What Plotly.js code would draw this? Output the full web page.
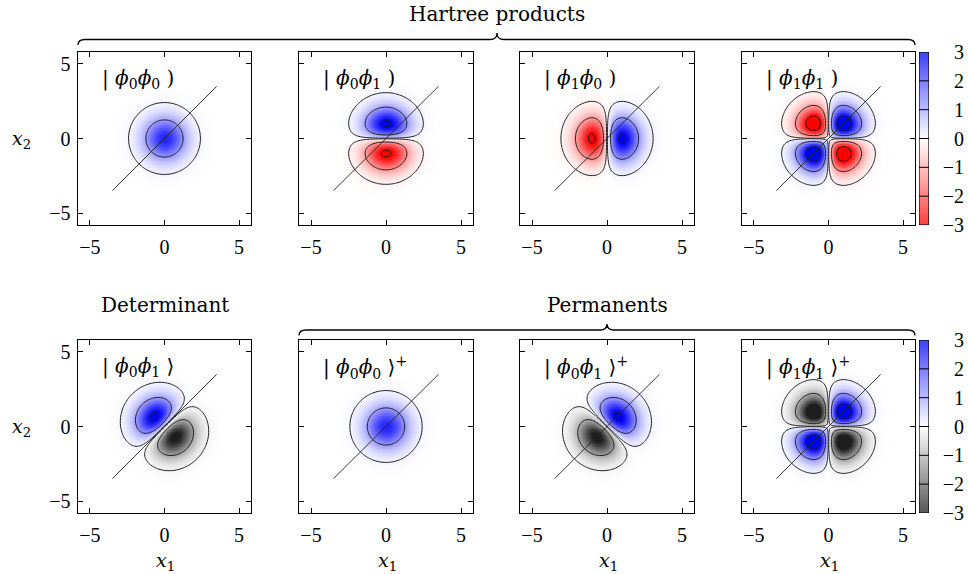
<!DOCTYPE html>
<html>
<head>
<meta charset="utf-8">
<script src="https://cdn.plot.ly/plotly-3.0.1.min.js"></script>
<style>html,body{margin:0;padding:0;background:#fff;}#chart{width:968px;height:574px;}</style>
</head>
<body>
<div id="chart"></div>
<script>
// ---------------- data ----------------
// each panel: list of terms [coefficient, n1, n2] meaning c * phi_n1(x1) * phi_n2(x2)
const panelLabels = [
  '| <i>ϕ</i><sub>0</sub><i>ϕ</i><sub>0</sub> )',
  '| <i>ϕ</i><sub>0</sub><i>ϕ</i><sub>1</sub> )',
  '| <i>ϕ</i><sub>1</sub><i>ϕ</i><sub>0</sub> )',
  '| <i>ϕ</i><sub>1</sub><i>ϕ</i><sub>1</sub> )',
  '| <i>ϕ</i><sub>0</sub><i>ϕ</i><sub>1</sub> ⟩',
  '| <i>ϕ</i><sub>0</sub><i>ϕ</i><sub>0</sub> ⟩<sup>+</sup>',
  '| <i>ϕ</i><sub>0</sub><i>ϕ</i><sub>1</sub> ⟩<sup>+</sup>',
  '| <i>ϕ</i><sub>1</sub><i>ϕ</i><sub>1</sub> ⟩<sup>+</sup>'
];
const panelTerms = [
  [[1, 0, 0]],
  [[1, 0, 1]],
  [[1, 1, 0]],
  [[1, 1, 1]],
  [[0.7071, 0, 1], [-0.7071, 1, 0]],
  [[1, 0, 0]],
  [[0.7071, 0, 1], [0.7071, 1, 0]],
  [[1, 1, 1]]
];
const posLevels = [0.055, 0.46, 1.15];
const negLevelsTop = [-0.055, -0.46, -1.15];
const negLevelsBottom = [-0.055, -0.46, -1.2];
const tickVals = [-5, 0, 5];
const tickText = ['−5', '0', '5'];
const cbTickVals = [-3, -2, -1, 0, 1, 2, 3];
const cbTickText = ['−3', '−2', '−1', '0', '1', '2', '3'];
const diagEnds = [-3.5, 3.5];
const groupTitles = ['Hartree products', 'Determinant', 'Permanents'];

// ---------------- helpers ----------------
const W = 968, H = 574;
const px = x => x / W;
const py = y => 1 - y / H;
const colsPx = [[78, 251], [299, 473], [520, 694], [742, 915]];
const rowsPx = [[52, 225], [340, 513]];
const RANGE = [-5.8, 5.8];
const SCALE = 2.6;

function phi(n, x) {
  const g = Math.exp(-x * x / 2);
  return n === 0 ? g : 2 * x * g;
}
const grid = [];
for (let k = -58; k <= 58; k++) grid.push(k / 10);

function field(terms) {
  return grid.map(y => grid.map(x => {
    let s = 0;
    for (const [c, n1, n2] of terms) s += c * phi(n1, x) * phi(n2, y);
    return SCALE * s;
  }));
}

const csTop = [[0, 'rgb(255,0,0)'], [0.5, 'rgb(255,255,255)'], [1, 'rgb(0,0,255)']];
const csBot = [[0, 'rgb(30,30,30)'], [0.5, 'rgb(255,255,255)'], [1, 'rgb(0,0,255)']];

const traces = [];
const layout = {
  width: W, height: H,
  margin: {l: 0, r: 0, t: 0, b: 0},
  paper_bgcolor: '#fff', plot_bgcolor: '#fff',
  showlegend: false,
  font: {family: 'Liberation Serif, DejaVu Serif, serif', color: '#000', size: 16},
  annotations: [], shapes: []
};

for (let p = 0; p < 8; p++) {
  const row = Math.floor(p / 4), col = p % 4;
  const ax = p + 1;
  const xa = 'x' + (ax === 1 ? '' : ax), ya = 'y' + (ax === 1 ? '' : ax);
  const z = field(panelTerms[p]);
  traces.push({
    type: 'heatmap', x: grid, y: grid, z: z, xaxis: xa, yaxis: ya,
    zmin: -3, zmax: 3, colorscale: row === 0 ? csTop : csBot,
    showscale: false, zsmooth: 'best', hoverinfo: 'skip'
  });
  const levels = posLevels.concat(row === 0 ? negLevelsTop : negLevelsBottom);
  for (const L of levels) {
    traces.push({
      type: 'contour', x: grid, y: grid, z: z, xaxis: xa, yaxis: ya,
      autocontour: false,
      contours: {start: SCALE * L, end: SCALE * L, size: 1, coloring: 'none'},
      line: {color: '#202020', width: 1, smoothing: 1},
      showscale: false, hoverinfo: 'skip'
    });
  }
  traces.push({
    type: 'scatter', mode: 'lines', x: diagEnds, y: diagEnds, xaxis: xa, yaxis: ya,
    line: {color: '#222', width: 0.9}, hoverinfo: 'skip'
  });
  const common = {
    range: RANGE, tickvals: tickVals, ticktext: tickText,
    ticks: 'inside', ticklen: 5, tickwidth: 1, tickcolor: '#000',
    showline: true, linecolor: '#000', linewidth: 1.4, mirror: 'ticks',
    showgrid: false, zeroline: false, fixedrange: true,
    tickfont: {family: 'Liberation Serif, serif', size: 20, color: '#000'}
  };
  layout['xaxis' + (ax === 1 ? '' : ax)] = Object.assign({}, common, {
    domain: [px(colsPx[col][0]), px(colsPx[col][1])],
    anchor: ya, showticklabels: true, ticklabelstandoff: 4
  });
  layout['yaxis' + (ax === 1 ? '' : ax)] = Object.assign({}, common, {
    domain: [py(rowsPx[row][1]), py(rowsPx[row][0])],
    anchor: xa, showticklabels: col === 0, ticklabelstandoff: 2
  });
  layout.annotations.push({
    xref: 'paper', yref: 'paper',
    x: px(colsPx[col][0] + 22), y: py(rowsPx[row][0] + 27),
    xanchor: 'left', yanchor: 'middle', showarrow: false,
    text: panelLabels[p],
    font: {family: 'DejaVu Serif, serif', size: 20, color: '#000'}
  });
  if (row === 1) {
    layout.annotations.push({
      xref: 'paper', yref: 'paper',
      x: px((colsPx[col][0] + colsPx[col][1]) / 2 + 1), y: py(561),
      xanchor: 'center', yanchor: 'middle', showarrow: false,
      text: '<i>x</i><sub>1</sub>',
      font: {family: 'DejaVu Serif, serif', size: 19, color: '#000'}
    });
  }
  if (col === 0) {
    layout.annotations.push({
      xref: 'paper', yref: 'paper',
      x: px(21), y: py((rowsPx[row][0] + rowsPx[row][1]) / 2 + 1),
      xanchor: 'center', yanchor: 'middle', showarrow: false,
      text: '<i>x</i><sub>2</sub>',
      font: {family: 'DejaVu Serif, serif', size: 19, color: '#000'}
    });
  }
}

// colorbars
const cbY = [];
for (let k = -30; k <= 30; k++) cbY.push(k / 10);
for (let row = 0; row < 2; row++) {
  const ax = 9 + row;
  traces.push({
    type: 'heatmap', x: [0, 1], y: cbY, z: cbY.map(v => [v, v]),
    xaxis: 'x' + ax, yaxis: 'y' + ax, zmin: -3, zmax: 3,
    colorscale: row === 0 ? csTop : csBot, showscale: false, zsmooth: 'best', hoverinfo: 'skip',
    opacity: 0.75
  });
  layout['xaxis' + ax] = {
    domain: [px(919), px(929)], range: [0, 1], anchor: 'y' + ax,
    visible: false, fixedrange: true
  };
  layout['yaxis' + ax] = {
    domain: [py(rowsPx[row][1]), py(rowsPx[row][0])], range: [-3, 3],
    anchor: 'free', position: px(964), side: 'left',
    tickvals: cbTickVals, ticktext: cbTickText, ticks: '', showline: false,
    showgrid: false, zeroline: false, fixedrange: true,
    tickfont: {family: 'Liberation Serif, serif', size: 20, color: '#000'}
  };
  for (const v of cbTickVals.slice(1, -1)) {
    layout.shapes.push({type: 'line', xref: 'x' + ax, yref: 'y' + ax, x0: 0, x1: 1, y0: v, y1: v,
      line: {color: '#000', width: 1}});
  }
  layout.shapes.push({type: 'rect', xref: 'x' + ax, yref: 'y' + ax, x0: 0, x1: 1, y0: -3, y1: 3,
    line: {color: '#000', width: 1.2}});
}

// braces
function brace(x0, x1, xc, yLine, yEnd, yPeak) {
  const r = 7;
  const P = (x, y) => px(x) + ',' + py(y);
  return 'M' + P(x0, yEnd) + ' Q' + P(x0, yLine) + ' ' + P(x0 + r, yLine) +
    ' L' + P(xc - r, yLine) + ' Q' + P(xc, yLine) + ' ' + P(xc, yPeak) +
    ' Q' + P(xc, yLine) + ' ' + P(xc + r, yLine) +
    ' L' + P(x1 - r, yLine) + ' Q' + P(x1, yLine) + ' ' + P(x1, yEnd);
}
layout.shapes.push({type: 'path', xref: 'paper', yref: 'paper',
  path: brace(78, 915, 497, 39.5, 45, 33), line: {color: '#000', width: 1.3}});
layout.shapes.push({type: 'path', xref: 'paper', yref: 'paper',
  path: brace(299, 915, 607, 330, 335.5, 324), line: {color: '#000', width: 1.3}});

// group titles
const titlePos = [[497, 14], [164.5, 305], [607, 305]];
groupTitles.forEach((t, i) => {
  layout.annotations.push({
    xref: 'paper', yref: 'paper', x: px(titlePos[i][0]), y: py(titlePos[i][1]),
    xanchor: 'center', yanchor: 'middle', showarrow: false, text: t,
    font: {family: 'DejaVu Serif, serif', size: 20, color: '#000'}
  });
});

Plotly.newPlot('chart', traces, layout, {staticPlot: true, displayModeBar: false});
</script>
</body>
</html>
